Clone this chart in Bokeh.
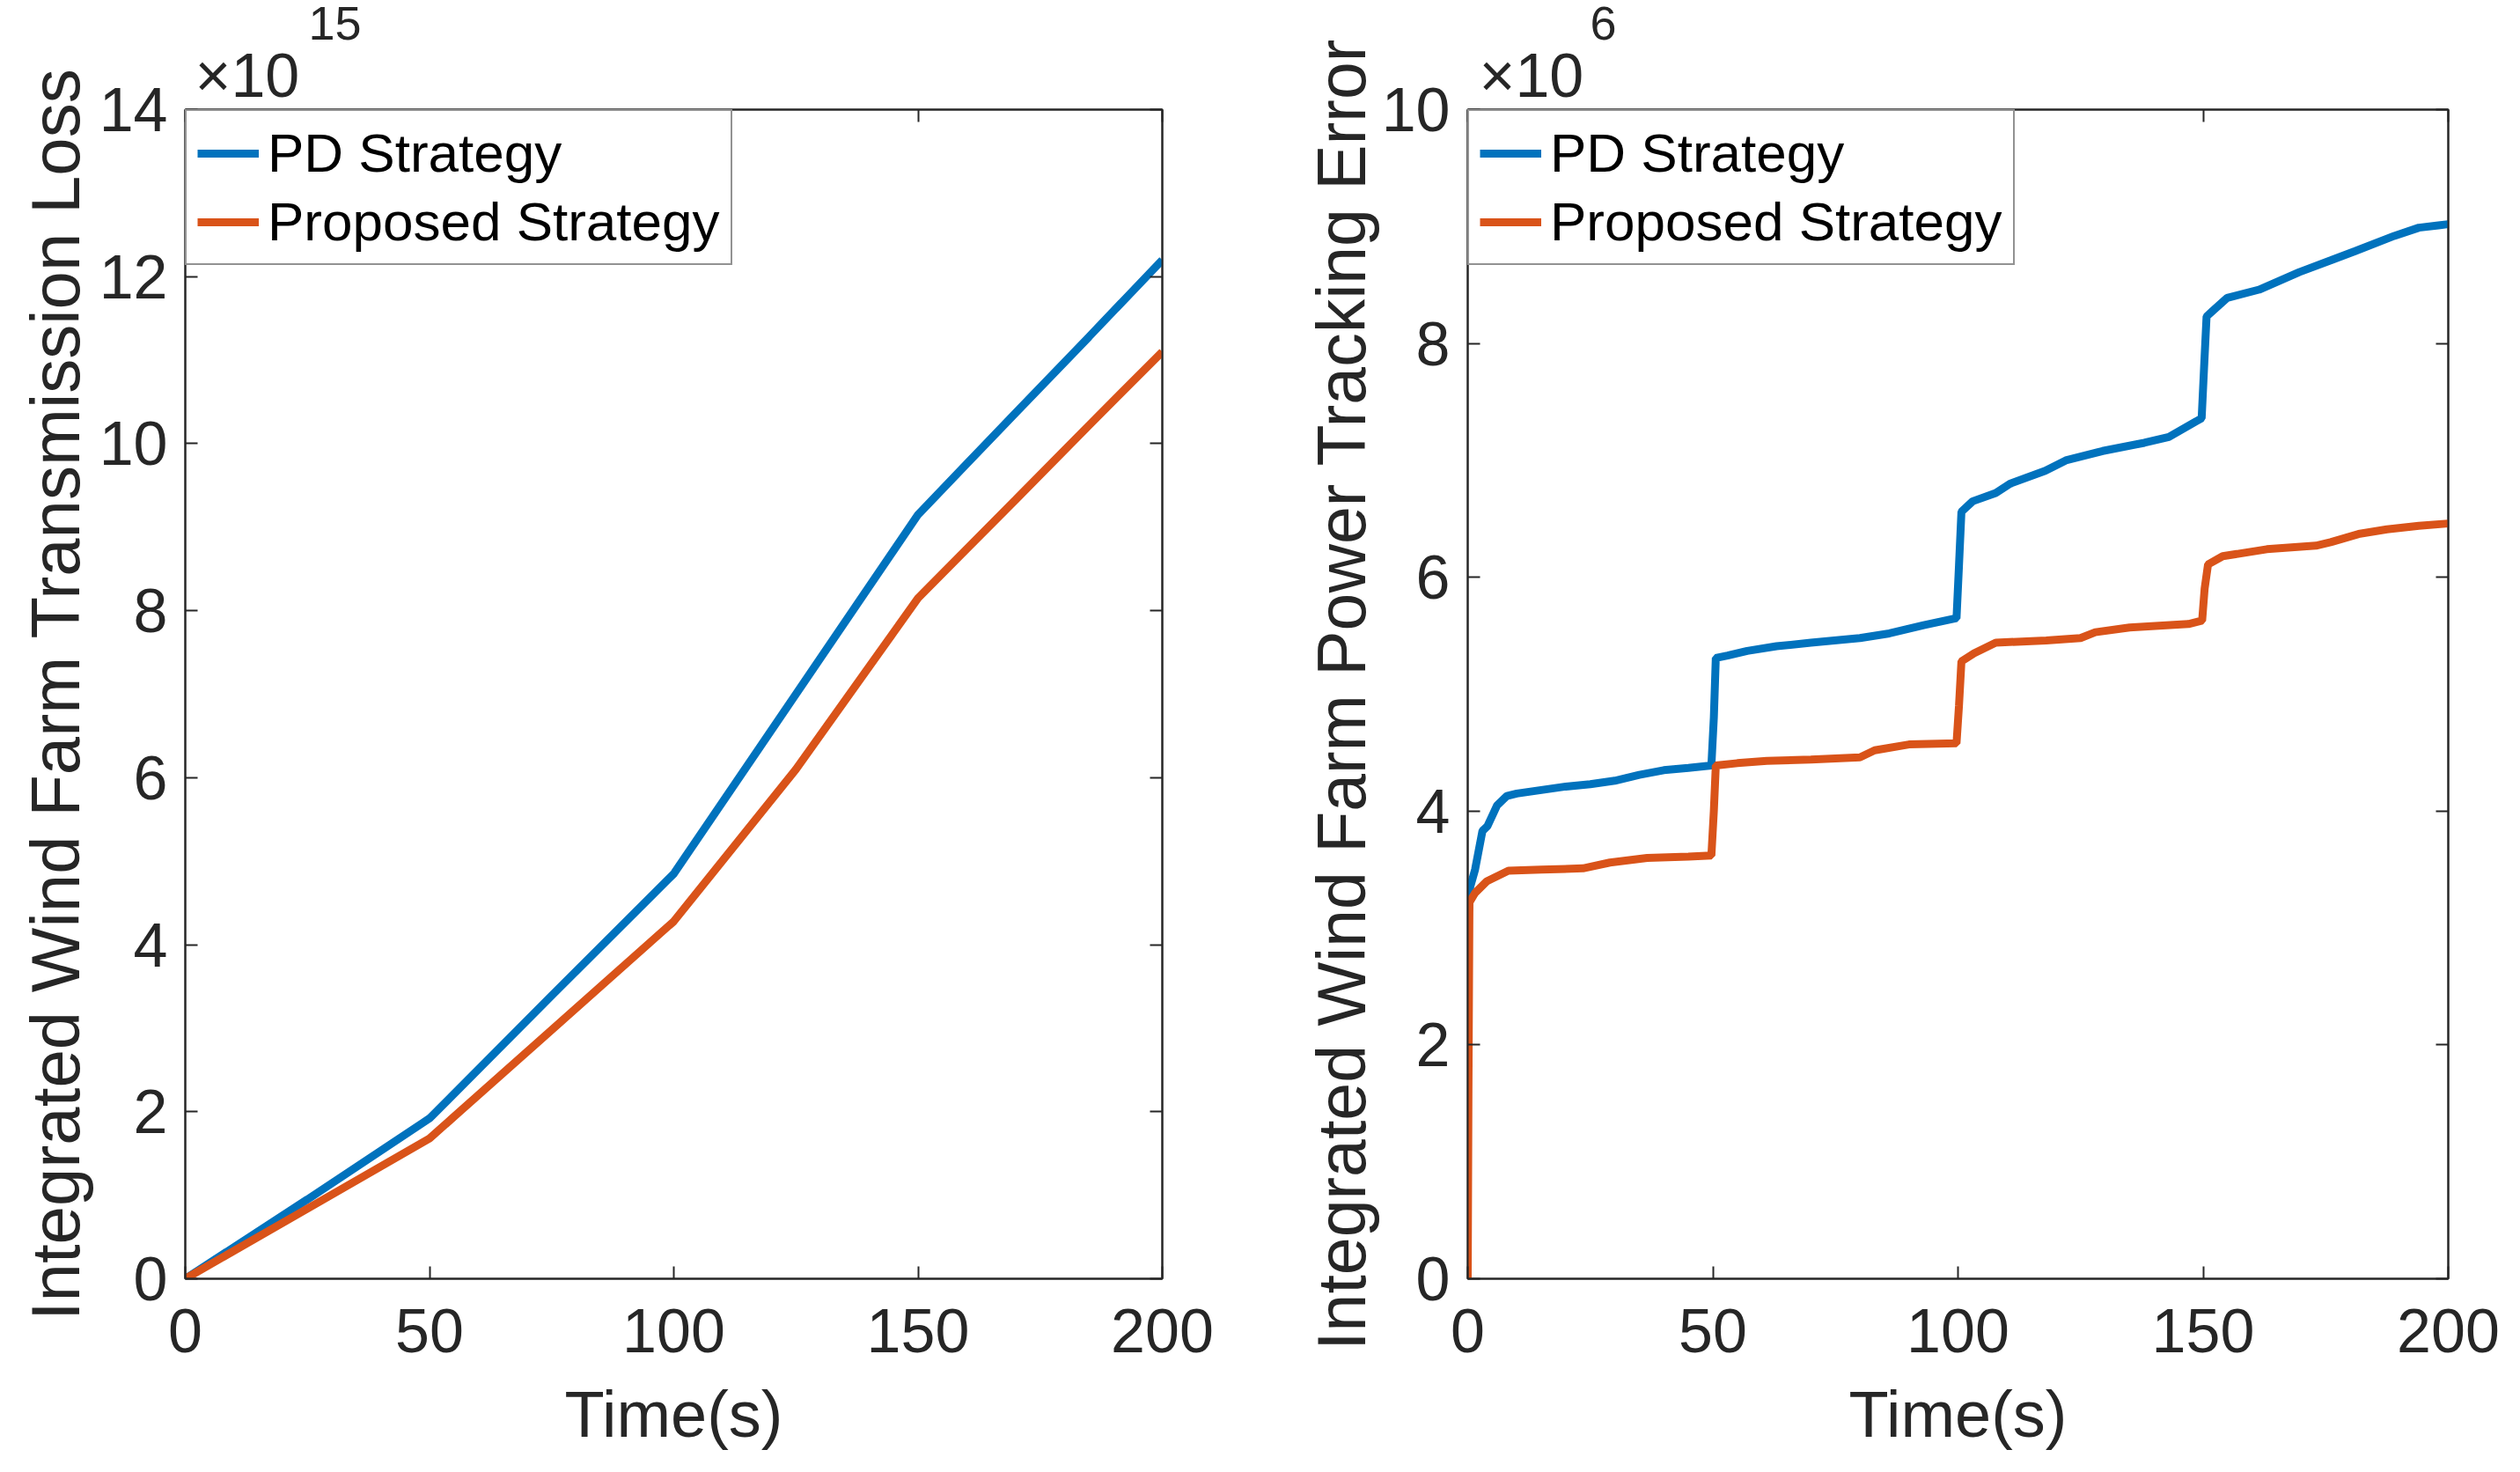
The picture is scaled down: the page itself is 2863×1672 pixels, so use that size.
from bokeh.plotting import figure
from bokeh.layouts import row
from bokeh.models import Range1d, LinearAxis, FixedTicker, Title, CustomJSTickFormatter
from bokeh.embed import file_html
from bokeh.resources import INLINE

# ---------------- data ----------------
t_loss = [0, 25, 50, 75, 100, 125, 150, 160, 170, 185, 200]
loss_pd = [0, 0.95, 1.92, 3.39, 4.85, 7.0, 9.15, 9.76, 10.37, 11.28, 12.2]
loss_prop = [0, 0.84, 1.68, 2.98, 4.28, 6.1, 8.15, 8.74, 9.33, 10.22, 11.1]

t_pd = [0, 0.5, 1.5, 3, 4, 6, 8, 10, 15, 20,
        25, 30, 35, 40, 45, 49.7, 50.2, 50.6, 53, 57,
        63, 70, 80, 86, 93, 99.7, 100.2, 100.7, 103, 107.7,
        110.6, 117.8, 122, 129.5, 138, 143, 148.4, 149.7, 150.2, 150.7,
        152, 154.9, 161.4, 169.6, 176, 181, 189, 194, 198, 200]
err_pd = [3.0, 3.35, 3.5, 3.83, 3.87, 4.05, 4.13, 4.15, 4.18, 4.21,
          4.23, 4.26, 4.31, 4.35, 4.37, 4.39, 4.8, 5.31, 5.33, 5.37,
          5.41, 5.44, 5.48, 5.52, 5.59, 5.65, 6.1, 6.56, 6.65, 6.72,
          6.8, 6.91, 7.0, 7.08, 7.15, 7.2, 7.33, 7.36, 7.8, 8.23,
          8.28, 8.39, 8.46, 8.61, 8.71, 8.79, 8.92, 8.99, 9.01, 9.02]
t_prop = [0, 0.15, 0.35, 1.5, 3.9, 8.3, 15, 23.5, 29, 36.6,
          45, 49.7, 50.2, 50.6, 55, 61, 70, 80, 83, 90,
          99.7, 100.2, 100.7, 103.3, 107.7, 118, 125, 128, 135, 147,
          149.8, 150.3, 151, 154, 163, 173, 176, 181.7, 187.5, 194,
          200]
err_prop = [0, 1.6, 3.22, 3.3, 3.4, 3.49, 3.50, 3.51, 3.56, 3.6,
            3.61, 3.62, 4.0, 4.39, 4.41, 4.43, 4.44, 4.46, 4.52, 4.57,
            4.58, 4.9, 5.28, 5.35, 5.44, 5.46, 5.48, 5.53, 5.57, 5.6,
            5.63, 5.9, 6.11, 6.18, 6.24, 6.27, 6.3, 6.37, 6.41, 6.44,
            6.46]

x_ticks = [0, 50, 100, 150, 200]
loss_ticks = [0, 2, 4, 6, 8, 10, 12, 14]
err_ticks = [0, 2, 4, 6, 8, 10]
series_names = ["PD Strategy", "Proposed Strategy"]
colors = ["#0072BD", "#D95319"]

FONT = "Liberation Sans"
AX = "#262626"
H = 1664


def style_axis(ax, ticks, show_labels):
    ax.ticker = FixedTicker(ticks=ticks)
    ax.axis_line_color = AX
    ax.axis_line_width = 2
    ax.major_tick_line_color = AX
    ax.major_tick_line_width = 2
    ax.major_tick_in = 14
    ax.major_tick_out = 0
    ax.minor_tick_line_color = None
    ax.major_label_text_font = FONT
    ax.major_label_text_color = AX
    ax.major_label_text_font_size = "70px"
    if not show_labels:
        ax.formatter = CustomJSTickFormatter(code="return ''")
        ax.major_label_standoff = 0
        ax.major_label_text_font_size = "1px"


def exp_title(text, size, offset):
    return Title(text=text, align="left", offset=offset, standoff=0, text_font=FONT,
                 text_font_size=size, text_font_style="normal", text_color=AX)


def make_panel(width, left, right, ymax, yticks, xs, ys, ylabel, ysize, ystand, expo, expo_off):
    p = figure(width=width, height=H, x_range=Range1d(0, 200), y_range=Range1d(0, ymax),
               output_backend="svg", toolbar_location=None,
               min_border_left=left, min_border_right=right,
               min_border_top=124, min_border_bottom=212)
    try:
        p.title = None
    except Exception:
        p.title.visible = False
    p.background_fill_color = "white"
    p.border_fill_color = "white"
    p.outline_line_color = AX
    p.outline_line_width = 2
    p.xgrid.visible = False
    p.ygrid.visible = False
    p.add_layout(LinearAxis(), "right")
    p.add_layout(LinearAxis(), "above")
    bx, ly, ry, ax_top = p.below[0], p.left[0], p.right[0], p.above[0]
    style_axis(bx, x_ticks, True)
    style_axis(ly, yticks, True)
    style_axis(ry, yticks, False)
    style_axis(ax_top, x_ticks, False)
    bx.major_label_standoff = 34
    ly.major_label_standoff = 20
    bx.axis_label = "Time(s)"
    ly.axis_label = ylabel
    for ax, size, st in ((bx, "74px", 26), (ly, ysize, ystand)):
        ax.axis_label_text_font = FONT
        ax.axis_label_text_font_size = size
        ax.axis_label_text_font_style = "normal"
        ax.axis_label_text_color = AX
        ax.axis_label_standoff = st

    for x, y, name, c in zip(xs, ys, series_names, colors):
        p.line(x, y, line_color=c, line_width=9, legend_label=name)

    lg = p.legend[0]
    lg.location = "top_left"
    lg.margin = 0
    lg.padding = 12
    lg.spacing = 7
    lg.glyph_width = 70
    lg.glyph_height = 70
    lg.label_height = 70
    lg.label_standoff = 10
    lg.label_text_font = FONT
    lg.label_text_font_size = "62px"
    lg.label_text_color = "black"
    lg.border_line_color = AX
    lg.border_line_width = 2
    lg.background_fill_color = "white"
    lg.background_fill_alpha = 1.0

    # axis multiplier "×10^n" above the frame
    p.add_layout(exp_title("×10", "70px", expo_off[0]), "above")
    p.add_layout(exp_title(expo, "54px", expo_off[1]), "above")
    return p


p1 = make_panel(1448, 210, 128, 14, loss_ticks, [t_loss, t_loss], [loss_pd, loss_prop],
                "Integrated Wind Farm Transmission Loss", "78px", 3, "15", (11, 140))
p2 = make_panel(1407, 219, 74, 10, err_ticks, [t_pd, t_prop], [err_pd, err_prop],
                "Integrated Wind Farm Power Tracking Error", "77px", 0, "6", (13, 139))

layout = row(p1, p2)
open("out.html", "w").write(file_html(layout, INLINE))
